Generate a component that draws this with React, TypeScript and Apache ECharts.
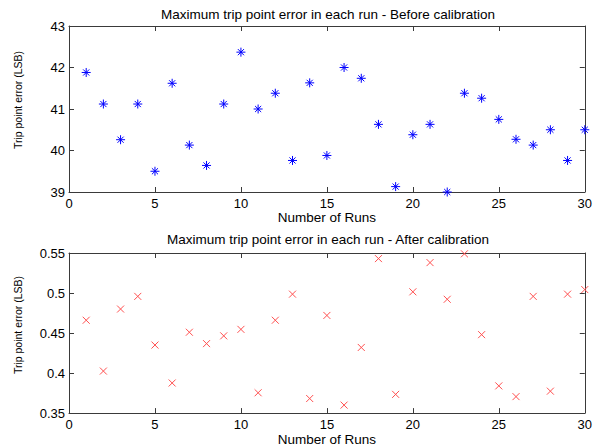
import React, { useEffect, useRef } from "react";
import * as echarts from "echarts";

const runs = [1, 2, 3, 4, 5, 6, 7, 8, 9, 10, 11, 12, 13, 14, 15, 16, 17, 18, 19, 20, 21, 22, 23, 24, 25, 26, 27, 28, 29, 30];
const beforeCal = [41.88, 41.12, 40.26, 41.12, 39.5, 41.62, 40.13, 39.64, 41.12, 42.37, 41.0, 41.38, 39.76, 41.63, 39.88, 42.0, 41.74, 40.63, 39.13, 40.38, 40.63, 39.0, 41.38, 41.26, 40.75, 40.27, 40.13, 40.5, 39.76, 40.5];
const afterCal = [0.466, 0.4025, 0.48, 0.4958, 0.435, 0.3876, 0.451, 0.4368, 0.4465, 0.4546, 0.3754, 0.466, 0.4986, 0.3682, 0.472, 0.36, 0.432, 0.543, 0.3734, 0.5015, 0.538, 0.4922, 0.549, 0.448, 0.384, 0.3706, 0.4958, 0.3774, 0.4986, 0.5043];

const titleBefore = "Maximum trip point error in each run - Before calibration";
const titleAfter = "Maximum trip point error in each run - After calibration";
const xName = "Number of Runs";
const yName = "Trip point error (LSB)";

const FONT = "Liberation Sans, Arial, sans-serif";
const AXIS_COLOR = "#3a3a3a";

export default function App() {
  const ref = useRef<HTMLDivElement>(null);
  useEffect(() => {
    if (!ref.current) return;
    const chart = echarts.init(ref.current, null, { renderer: "svg" });
    const tick = { show: true, inside: true, length: 5, lineStyle: { color: AXIS_COLOR } };
    const line = { show: true, onZero: false, lineStyle: { color: AXIS_COLOR, width: 1 } };
    const lbl = { fontFamily: FONT, fontSize: 13, color: "#000" };
    const mkX = (gi: number, pos: "top" | "bottom", labels: boolean, gap: number) => ({
      type: "value",
      gridIndex: gi,
      position: pos,
      min: 0,
      max: 30,
      interval: 5,
      splitLine: { show: false },
      axisLine: line,
      axisTick: tick,
      axisLabel: labels ? { ...lbl, margin: 5 } : { show: false },
      name: labels ? xName : "",
      nameLocation: "middle",
      nameGap: gap,
      nameTextStyle: { ...lbl, fontSize: 13.5 },
    });
    const mkY = (gi: number, pos: "left" | "right", labels: boolean, min: number, max: number, interval: number) => ({
      type: "value",
      gridIndex: gi,
      position: pos,
      min,
      max,
      interval,
      splitLine: { show: false },
      axisLine: line,
      axisTick: tick,
      axisLabel: labels
        ? { ...lbl, margin: 4, formatter: (v: number) => String(+v.toFixed(2)) }
        : { show: false },
    });
    const asterisk = "path://M5,0L5,10M0,5L10,5M1.6,1.6L8.4,8.4M1.6,8.4L8.4,1.6";
    const cross = "path://M0,0L10,10M0,10L10,0";
    chart.setOption({
      animation: false,
      backgroundColor: "#fff",
      title: [
        { text: titleBefore, left: 328, top: 7, padding: 0, textAlign: "center", textStyle: { fontFamily: FONT, fontSize: 13.5, fontWeight: "normal", color: "#000" } },
        { text: titleAfter, left: 328, top: 232, padding: 0, textAlign: "center", textStyle: { fontFamily: FONT, fontSize: 13.5, fontWeight: "normal", color: "#000" } },
      ],
      grid: [
        { left: 69, top: 26, width: 519, height: 166 },
        { left: 69, top: 253, width: 519, height: 165 },
      ],
      xAxis: [mkX(0, "bottom", true, 14), mkX(0, "top", false, 0), mkX(1, "bottom", true, 13), mkX(1, "top", false, 0)],
      yAxis: [
        mkY(0, "left", true, 39, 43, 1),
        mkY(0, "right", false, 39, 43, 1),
        mkY(1, "left", true, 0.35, 0.55, 0.05),
        mkY(1, "right", false, 0.35, 0.55, 0.05),
      ],
      graphic: [
        { type: "text", x: 18, y: 100, rotation: Math.PI / 2, style: { text: yName, fontFamily: FONT, fontSize: 10.5, fill: "#000", align: "center", verticalAlign: "middle" } },
        { type: "text", x: 18, y: 325, rotation: Math.PI / 2, style: { text: yName, fontFamily: FONT, fontSize: 10.5, fill: "#000", align: "center", verticalAlign: "middle" } },
      ],
      series: [
        {
          type: "scatter",
          xAxisIndex: 0,
          yAxisIndex: 0,
          data: runs.map((r, i) => [r, beforeCal[i]]),
          symbol: asterisk,
          symbolSize: 9,
          itemStyle: { color: "rgba(0,0,0,0)", borderColor: "#0000ff", borderWidth: 1, opacity: 1 },
        },
        {
          type: "scatter",
          xAxisIndex: 2,
          yAxisIndex: 2,
          data: runs.map((r, i) => [r, afterCal[i]]),
          symbol: cross,
          symbolSize: 7,
          itemStyle: { color: "rgba(0,0,0,0)", borderColor: "#ff5050", borderWidth: 1, opacity: 1 },
        },
      ],
    });
    return () => chart.dispose();
  }, []);
  return <div ref={ref} style={{ position: "fixed", left: 0, top: 0, width: 595, height: 447, background: "#fff" }} />;
}
